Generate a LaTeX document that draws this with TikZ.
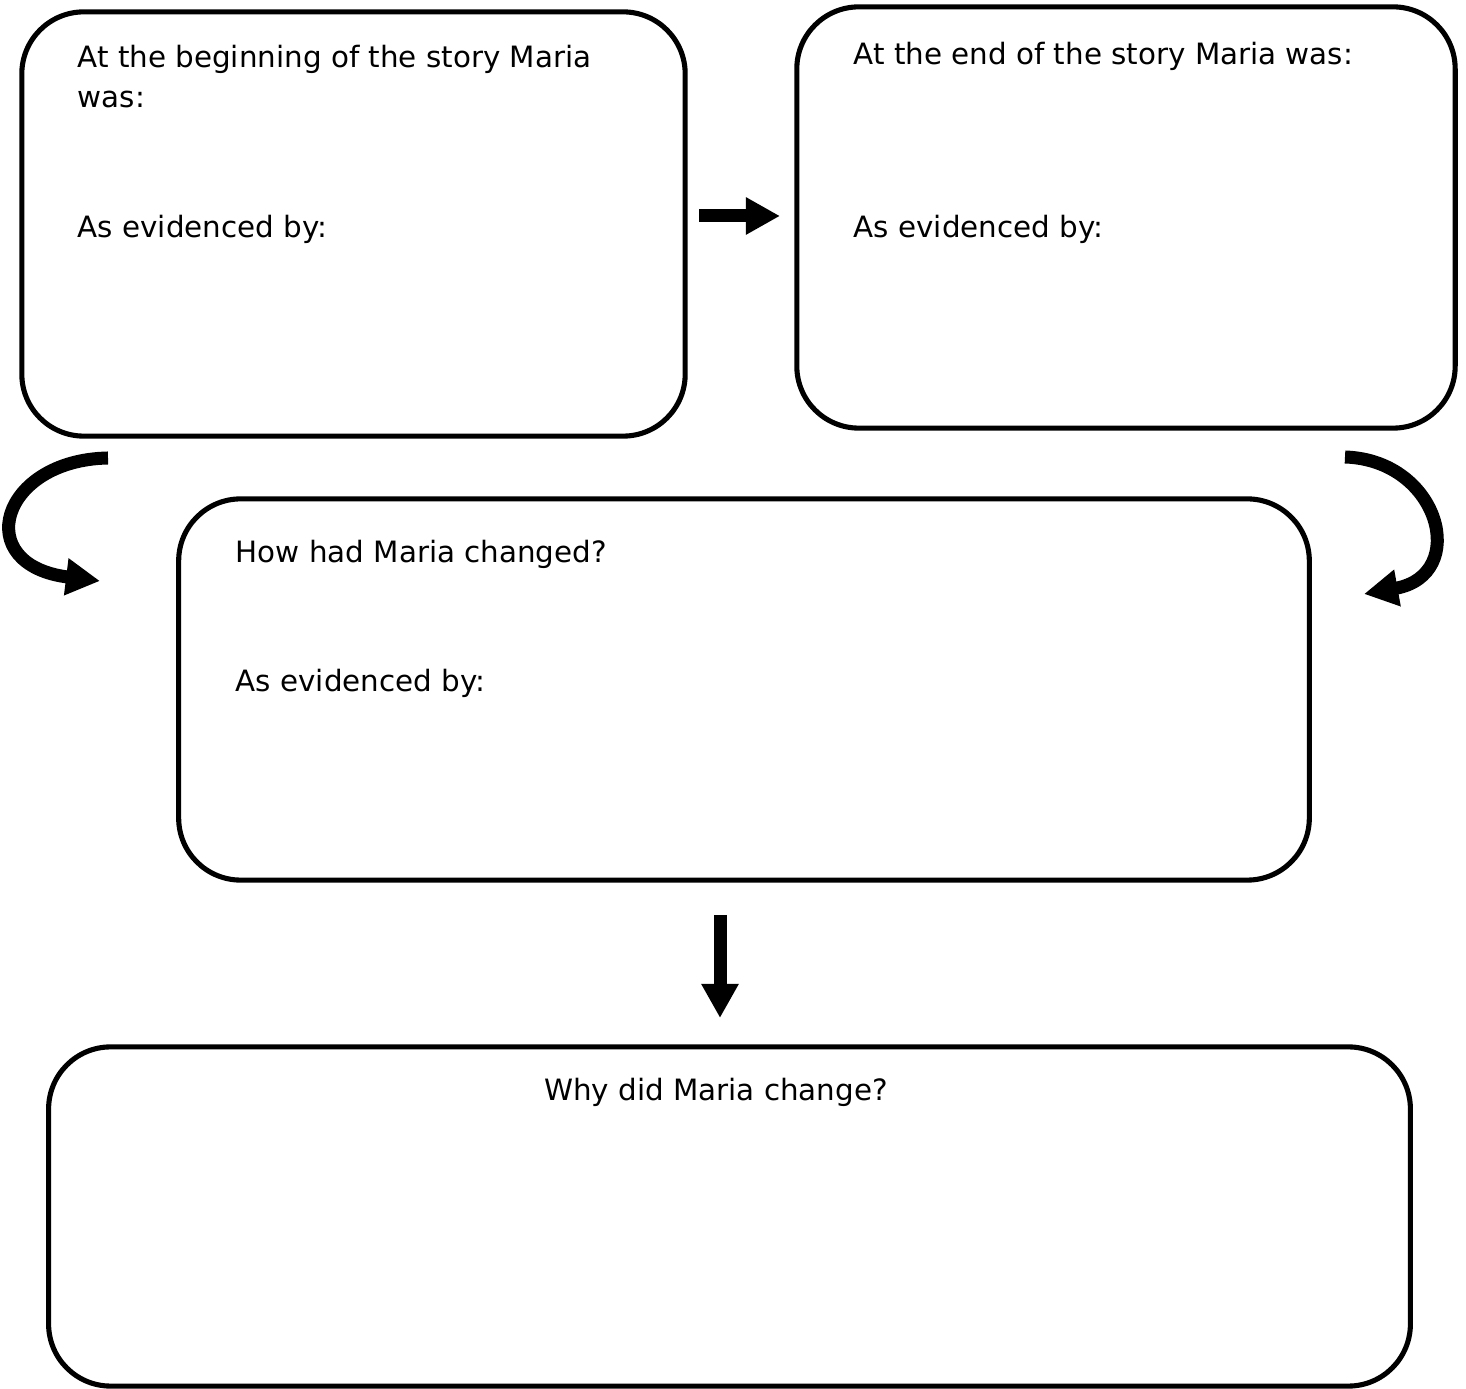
\documentclass[tikz,border=0pt]{standalone}
\usepackage{fontspec}
\setmainfont{DejaVu Sans}
\usetikzlibrary{arrows.meta}
\usetikzlibrary{calc,positioning}

\begin{document}
\begin{tikzpicture}[x=0.01cm, y=-0.01cm,
    box/.style={draw, line width=1.45pt, rounded corners=0.62cm, inner sep=0pt},
    fat/.style={line width=0.13cm, -{Triangle[length=0.34cm, width=0.35cm]}},
    txt/.style={anchor=base west, inner sep=0pt, font=\fontsize{8.35}{10}\selectfont}]
    \useasboundingbox (0,0) rectangle (1466,1389);
    \node[box, minimum width=6.63cm, minimum height=4.24cm] (begin) at (353.5,224) {};
    \node[box, minimum width=6.58cm, minimum height=4.21cm] (end) at (1126,217.5) {};
    \node[box, minimum width=11.30cm, minimum height=3.81cm] (how) at (744,689.5) {};
    \node[box, minimum width=13.61cm, minimum height=3.39cm] (why) at (729.5,1216.5) {};

    \node[txt] (begin1) at (77,68) {At the beginning of the story Maria};
    \node[txt] (begin2) at (77,108) {was:};
    \node[txt] (begin3) at (77,238) {As evidenced by:};
    \node[txt] (end1) at (853,65) {At the end of the story Maria was:};
    \node[txt] (end2) at (853,238) {As evidenced by:};
    \node[txt] (how1) at (235,563) {How had Maria changed?};
    \node[txt] (how2) at (235,692) {As evidenced by:};
    \node[txt, anchor=base] (why1) at (716,1101) {Why did Maria change?};

    \coordinate (r1) at (699,216);
    \coordinate (r2) at (780,216);
    \coordinate (l1) at (108,458);
    \coordinate (l2) at (100,581);
    \coordinate (k1) at (1345,457);
    \coordinate (k2) at (1364,594);
    \coordinate (d1) at (720,915);
    \coordinate (d2) at (720,1018);
    \draw[fat] (r1) -- (r2);
    \draw[fat] (l1) .. controls (0,460) and (-30,565) .. (l2);
    \draw[fat] (k1) .. controls (1440,460) and (1470,575) .. (k2);
    \draw[fat] (d1) -- (d2);
\end{tikzpicture}
\end{document}
